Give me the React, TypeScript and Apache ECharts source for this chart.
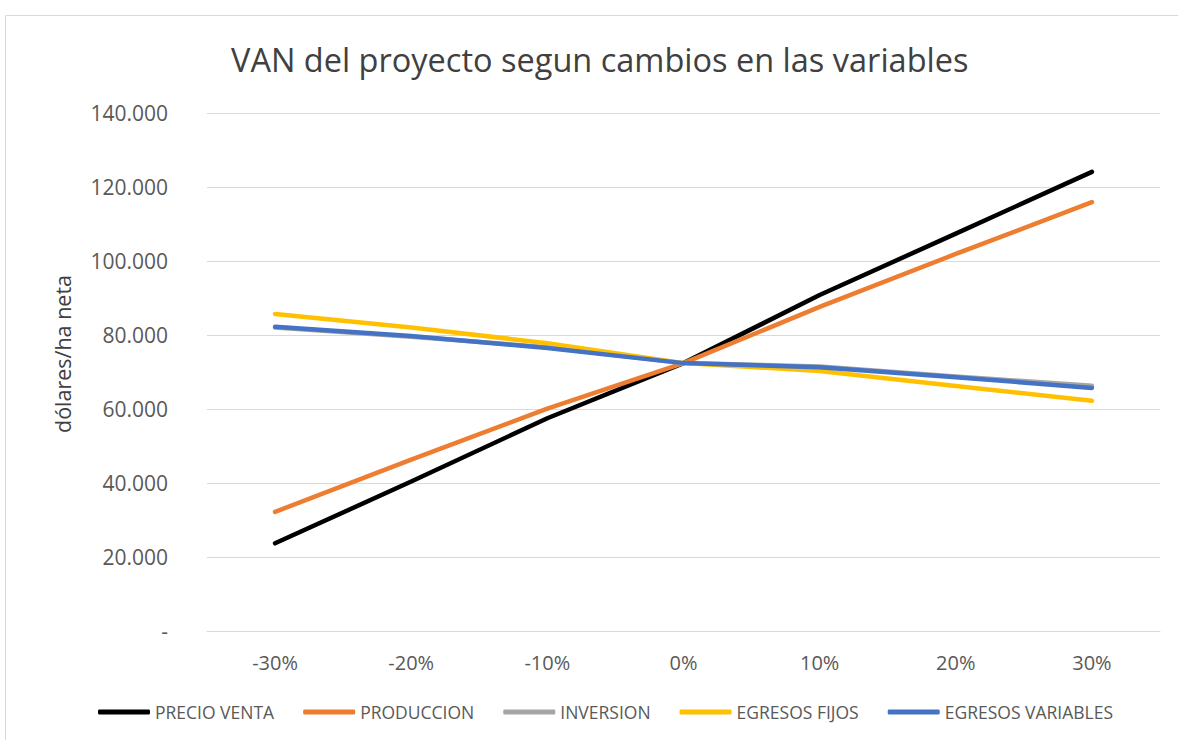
import React, { useEffect, useRef } from "react";
import * as echarts from "echarts";

const categories = ["-30%", "-20%", "-10%", "0%", "10%", "20%", "30%"];
const precioVenta = [23700, 40400, 57500, 72400, 90800, 107400, 124100];
const produccion = [32200, 46300, 60100, 72400, 87600, 101900, 115900];
const inversion = [82000, 79500, 76700, 72400, 71500, 68800, 66300];
const egresosFijos = [85700, 82000, 77800, 72400, 70300, 66200, 62200];
const egresosVariables = [82200, 79700, 76500, 72400, 71300, 68600, 65700];
const seriesNames = ["PRECIO VENTA", "PRODUCCION", "INVERSION", "EGRESOS FIJOS", "EGRESOS VARIABLES"];
const seriesColors = ["#000000", "#ED7D31", "#A5A5A5", "#FFC000", "#4472C4"];
const seriesData = [precioVenta, produccion, inversion, egresosFijos, egresosVariables];

const FONT = "'Open Sans', 'Noto Sans', sans-serif";

function fmt(v: number): string {
  if (v === 0) return "-";
  return v.toString().replace(/\B(?=(\d{3})+(?!\d))/g, ".");
}

export default function App() {
  const ref = useRef<HTMLDivElement>(null);
  useEffect(() => {
    if (!ref.current) return;
    const chart = echarts.init(ref.current, null, { renderer: "svg" });
    chart.setOption({
      animation: false,
      backgroundColor: "#ffffff",
      title: {
        text: "VAN del proyecto segun cambios en las variables",
        left: 231,
        top: 43,
        padding: 0,
        textStyle: { fontFamily: FONT, fontSize: 32.5, fontWeight: "normal", color: "#404040" },
      },
      graphic: [
        {
          type: "rect",
          shape: { x: 5.5, y: 15.5, width: 1200, height: 800 },
          style: { fill: "none", stroke: "#d9d9d9", lineWidth: 1 },
          silent: true,
        },
        {
          type: "text",
          x: 62,
          y: 354,
          rotation: Math.PI / 2,
          style: {
            text: "dólares/ha neta",
            fontFamily: FONT,
            fontSize: 21.5,
            fill: "#404040",
            align: "center",
            verticalAlign: "middle",
          },
          silent: true,
        },
      ],
      legend: {
        left: 98,
        top: 703,
        padding: 0,
        itemWidth: 52,
        itemHeight: 5,
        itemGap: 29,
        icon: "roundRect",
        textStyle: { fontFamily: FONT, fontSize: 17.5, color: "#595959" },
        data: seriesNames,
      },
      grid: { left: 207, right: 18, top: 113, bottom: 109 },
      xAxis: {
        type: "category",
        data: categories,
        boundaryGap: true,
        axisLine: { lineStyle: { color: "#d9d9d9", width: 1 } },
        axisTick: { show: false },
        axisLabel: { fontFamily: FONT, fontSize: 20, color: "#595959", margin: 21 },
      },
      yAxis: {
        type: "value",
        min: 0,
        max: 140000,
        interval: 20000,
        axisLine: { show: false },
        axisTick: { show: false },
        splitLine: { lineStyle: { color: "#d9d9d9", width: 1 } },
        axisLabel: {
          fontFamily: FONT,
          fontSize: 21,
          color: "#595959",
          margin: 39,
          formatter: (v: number) => fmt(v),
        },
      },
      series: seriesNames.map((name, i) => ({
        name,
        type: "line",
        data: seriesData[i],
        symbol: "none",
        showSymbol: false,
        color: seriesColors[i],
        lineStyle: { width: 4.5, color: seriesColors[i], cap: "round", join: "round" },
        z: 2 + i,
      })),
    });
    return () => chart.dispose();
  }, []);
  return (
    <div
      ref={ref}
      style={{ position: "fixed", left: 0, top: 0, width: 1178, height: 740, background: "#fff" }}
    />
  );
}
